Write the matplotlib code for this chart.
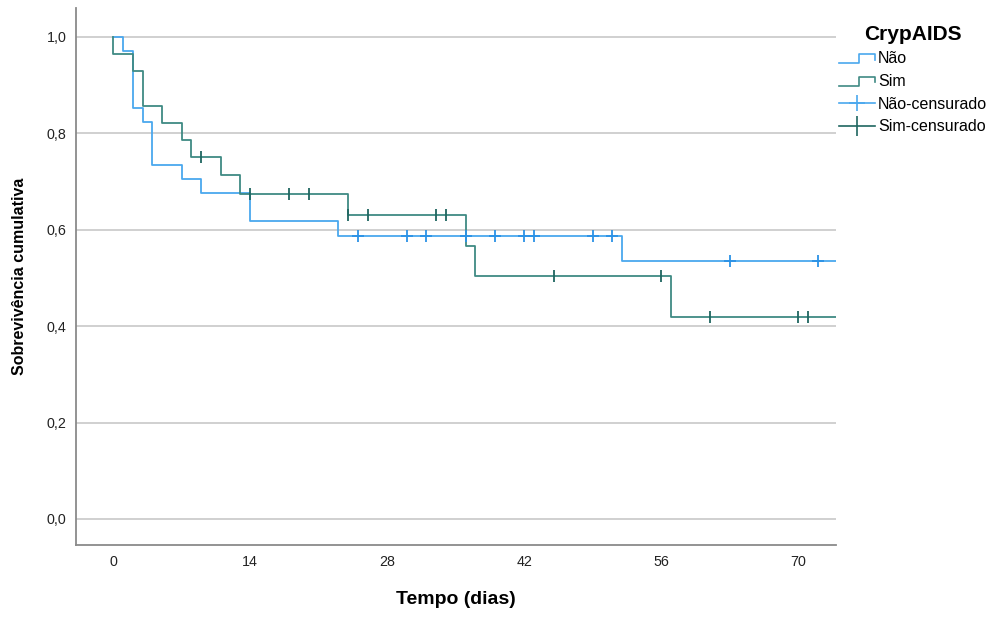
import numpy as np
import matplotlib
matplotlib.use("Agg")
import matplotlib.pyplot as plt
from matplotlib.lines import Line2D
from matplotlib.legend_handler import HandlerBase

plt.rcParams["font.family"] = ["Liberation Sans", "DejaVu Sans"]

# Kaplan-Meier steps (time in days, cumulative survival)
nao_times = [0, 1, 2, 3, 4, 7, 9, 14, 23, 52]
nao_surv = [1.0, 0.971, 0.853, 0.824, 0.735, 0.706, 0.676, 0.618, 0.588, 0.535]
nao_censored = [25, 30, 32, 36, 39, 42, 43, 49, 51, 63, 72]

sim_times = [0, 0, 2, 3, 5, 7, 8, 11, 13, 24, 36, 37, 57]
sim_surv = [1.0, 0.964, 0.929, 0.857, 0.821, 0.786, 0.750, 0.713, 0.675, 0.630, 0.567, 0.504, 0.420]
sim_censored = [9, 14, 18, 20, 24, 26, 33, 34, 45, 56, 61, 70, 71]

x_ticks = [0, 14, 28, 42, 56, 70]
y_ticks = [0.0, 0.2, 0.4, 0.6, 0.8, 1.0]
y_ticklabels = ["0,0", "0,2", "0,4", "0,6", "0,8", "1,0"]
t_end = 74

BLUE = "#4aa8ee"
BLUE_DARK = "#2b92e6"
GREEN = "#3f8a84"
GREEN_DARK = "#1f6660"


def surv_at(times, surv, t):
    idx = np.searchsorted(times, t, side="right") - 1
    return np.asarray(surv)[idx]


class StepHandler(HandlerBase):
    def create_artists(self, legend, orig_handle, xdescent, ydescent,
                       width, height, fontsize, trans):
        x0 = -xdescent
        y0 = -ydescent
        xm = x0 + width * 0.55
        x1 = x0 + width
        xs = [x0, xm, xm, x1, x1]
        ys = [y0 + height * 0.05, y0 + height * 0.05, y0 + height * 0.85,
              y0 + height * 0.85, y0 + height * 0.35]
        ln = Line2D(xs, ys, color=orig_handle.get_color(), lw=1.2)
        ln.set_transform(trans)
        return [ln]


fig = plt.figure(figsize=(9.96, 6.17), dpi=100)
ax = fig.add_axes([76 / 996, 1 - 545 / 617, 760 / 996, 537 / 617])

# survival curves
nt = list(nao_times) + [t_end]
ns = list(nao_surv) + [nao_surv[-1]]
st = list(sim_times) + [t_end]
ss = list(sim_surv) + [sim_surv[-1]]
ax.step(nt, ns, where="post", color=BLUE, lw=1.3, zorder=3)
ax.step(st, ss, where="post", color=GREEN, lw=1.3, zorder=4)

# censored marks
ax.plot(nao_censored, surv_at(nao_times, nao_surv, nao_censored), ls="none",
        marker="+", ms=9, mew=1.3, color=BLUE_DARK, zorder=5)
ax.plot(sim_censored, surv_at(sim_times, sim_surv, sim_censored), ls="none",
        marker="|", ms=9, mew=1.3, color=GREEN_DARK, zorder=6)

ax.set_xlim(-3.8, 73.85)
ax.set_ylim(-0.054, 1.06)
ax.set_xticks(x_ticks)
ax.set_yticks(y_ticks)
ax.set_yticklabels(y_ticklabels)
ax.tick_params(length=0, labelsize=10.3, colors="#222222")
ax.tick_params(axis="x", pad=7)
ax.tick_params(axis="y", pad=7)
ax.yaxis.grid(True, color="#c8c8c8", lw=1.2)
ax.set_axisbelow(True)
for side in ["top", "right"]:
    ax.spines[side].set_visible(False)
for side in ["left", "bottom"]:
    ax.spines[side].set_color("#8a8a8a")
    ax.spines[side].set_linewidth(1.3)

ax.set_xlabel("Tempo (dias)", fontsize=14, fontweight="bold", labelpad=16)
ax.set_ylabel("Sobrevivência cumulativa", fontsize=11.5, fontweight="bold")
ax.yaxis.set_label_coords(-0.064, 0.5)

# legend
h_nao = Line2D([], [], color=BLUE)
h_sim = Line2D([], [], color=GREEN)
h_nao_c = Line2D([], [], color=BLUE, lw=1.2, marker="+", ms=12, mew=1.2)
h_sim_c = Line2D([], [], color=GREEN_DARK, lw=1.2, marker="|", ms=14, mew=1.2)
leg = fig.legend([h_nao, h_sim, h_nao_c, h_sim_c],
                 ["Não", "Sim", "Não-censurado", "Sim-censurado"],
                 handler_map={h_nao: StepHandler(), h_sim: StepHandler()},
                 title="CrypAIDS", loc="upper left",
                 bbox_to_anchor=(826 / 996, 1 - 12 / 617),
                 frameon=False, fontsize=11.5, title_fontsize=15,
                 handlelength=2.25, handletextpad=0.2, labelspacing=0.48,
                 borderpad=0.3)
leg.get_title().set_fontweight("bold")

fig.savefig("out.png", dpi=100)
